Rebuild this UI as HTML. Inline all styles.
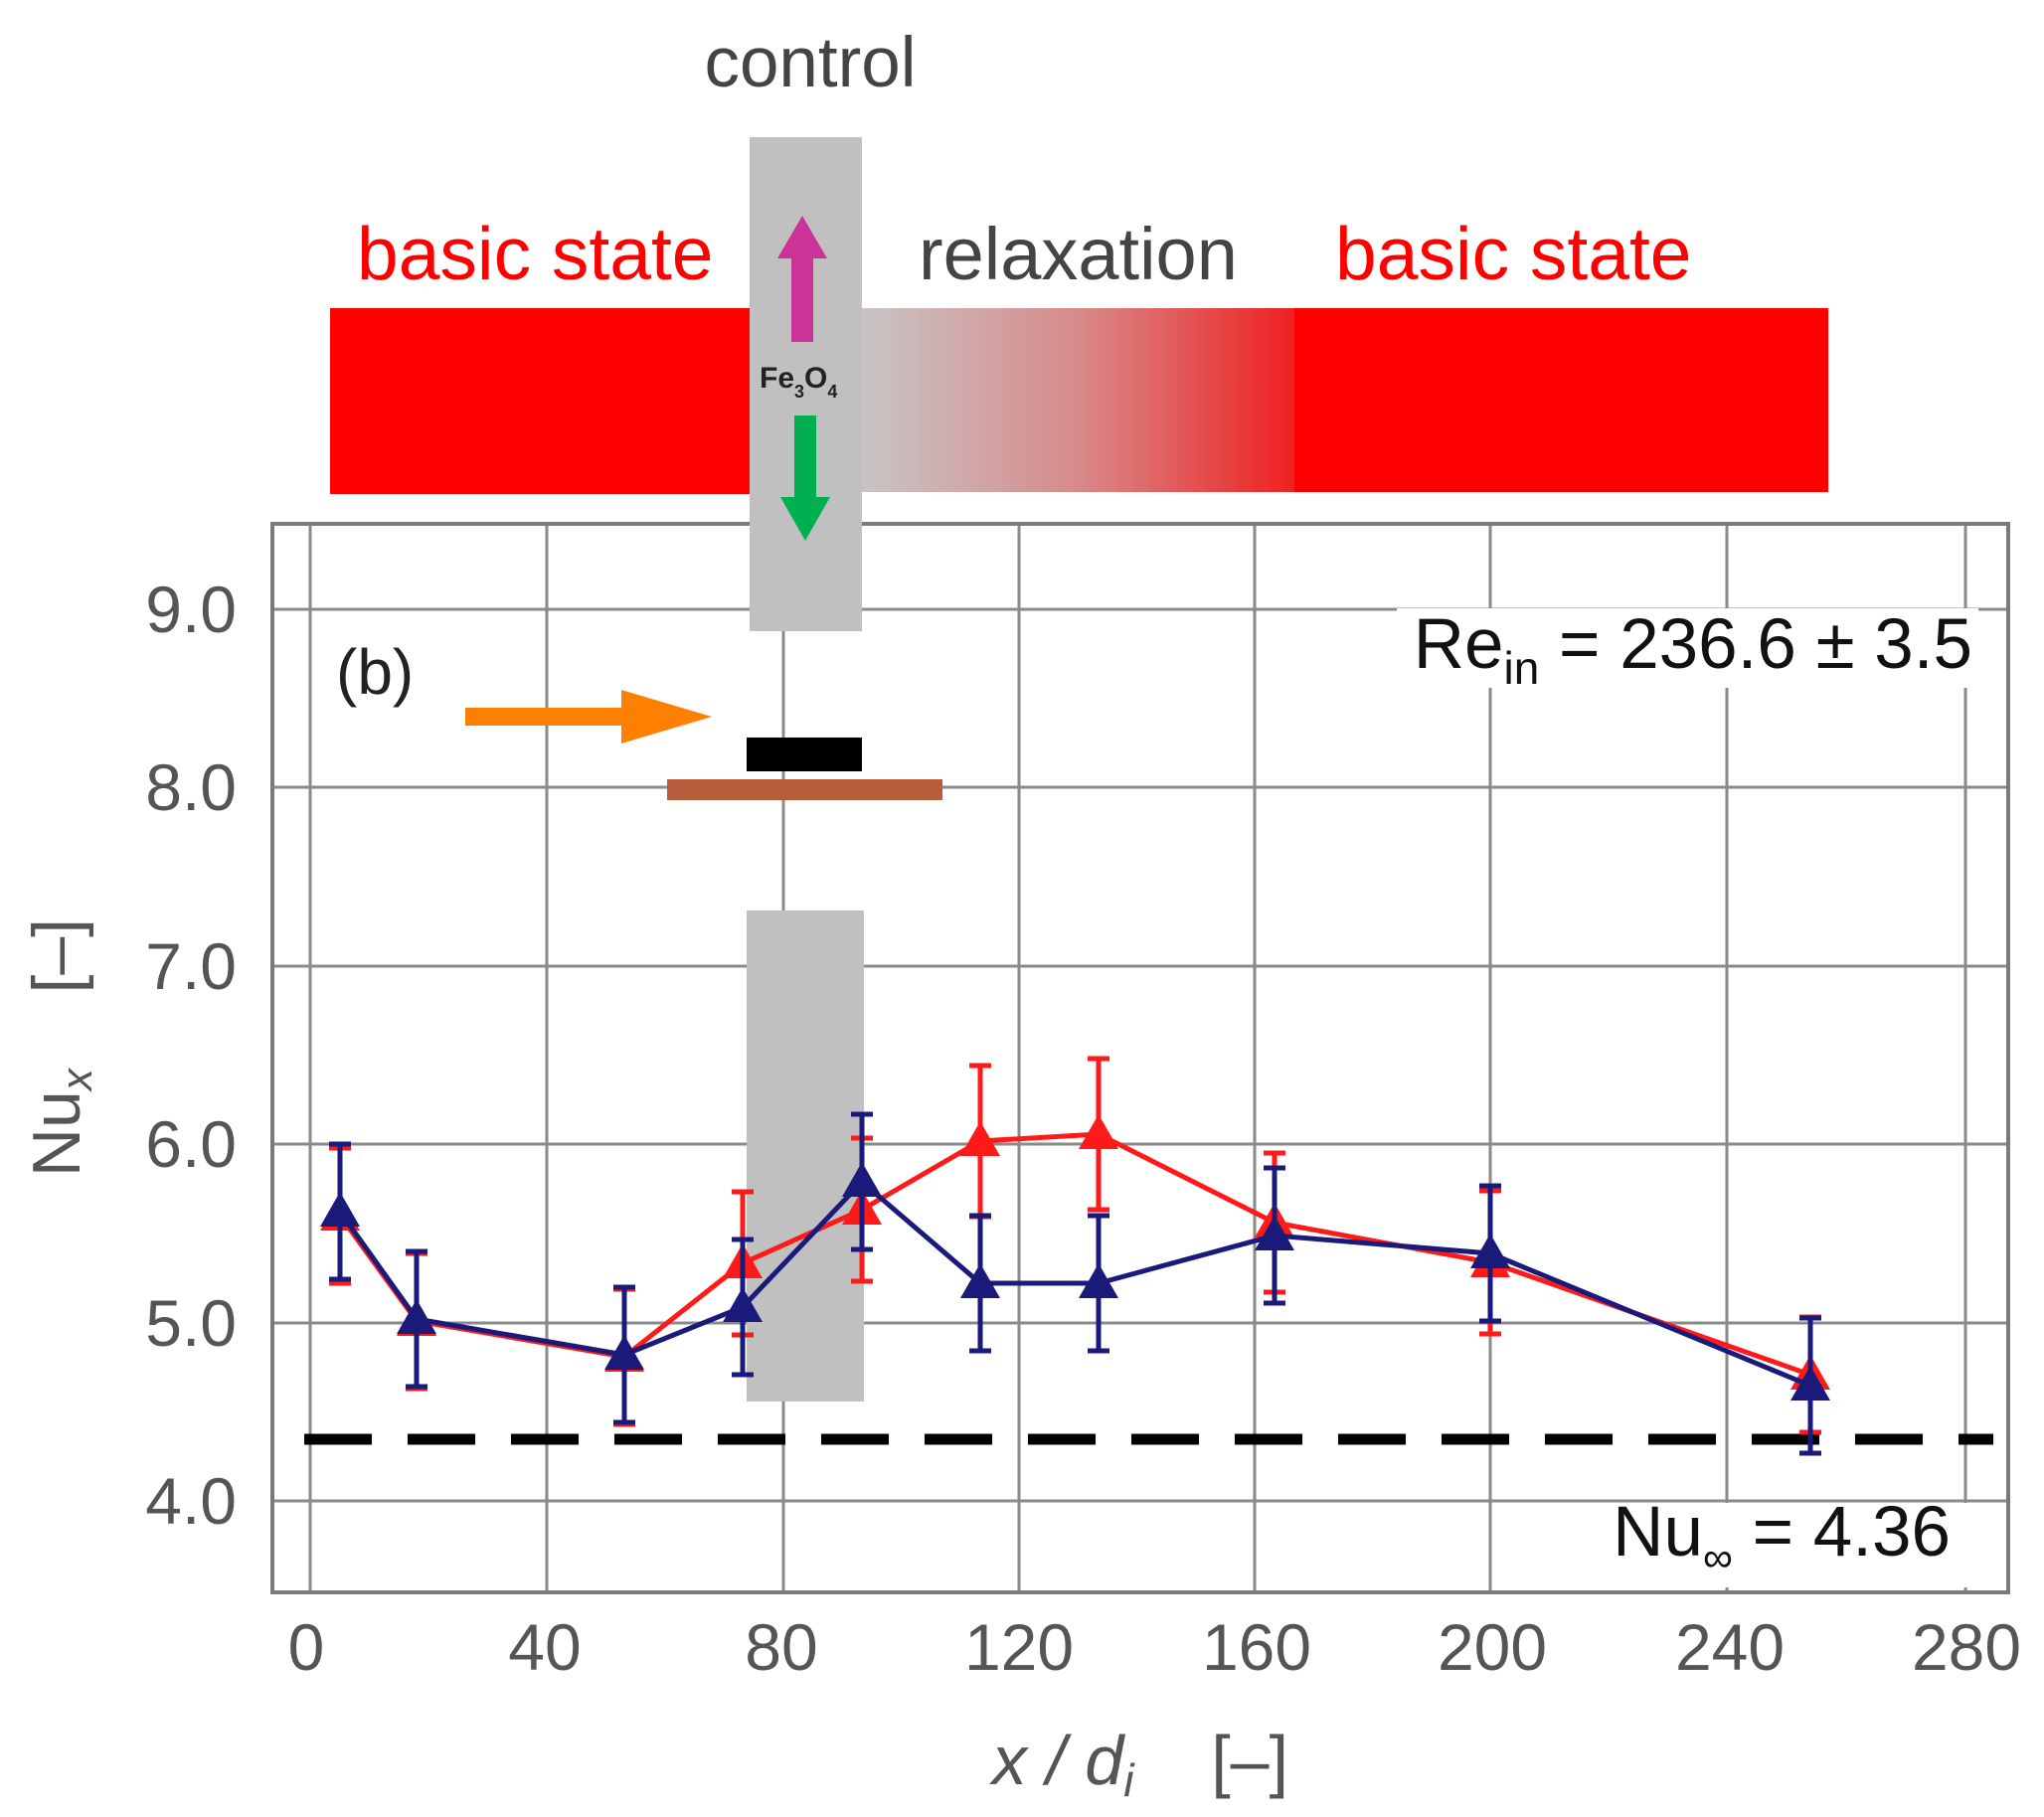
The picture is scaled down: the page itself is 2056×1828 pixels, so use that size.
<!DOCTYPE html>
<html><head><meta charset="utf-8"><style>
html,body{margin:0;padding:0;background:#fff;}
svg{display:block;}
text{font-family:"Liberation Sans",sans-serif;}
</style></head><body>
<svg width="2056" height="1828" viewBox="0 0 2056 1828" xmlns="http://www.w3.org/2000/svg">
<defs>
<linearGradient id="g" x1="0" x2="1" y1="0" y2="0">
<stop offset="0" stop-color="#c8c4c4"/><stop offset="0.5" stop-color="#d88a8a"/><stop offset="1" stop-color="#ee2020"/>
</linearGradient>
</defs>
<g stroke="#8a8a8a" stroke-width="3" fill="none">
<line x1="312" y1="527" x2="312" y2="1602"/>
<line x1="550" y1="527" x2="550" y2="1602"/>
<line x1="788" y1="527" x2="788" y2="1602"/>
<line x1="1025" y1="527" x2="1025" y2="1602"/>
<line x1="1262" y1="527" x2="1262" y2="1602"/>
<line x1="1499" y1="527" x2="1499" y2="1602"/>
<line x1="1737" y1="527" x2="1737" y2="1602"/>
<line x1="1977" y1="527" x2="1977" y2="1602"/>
<line x1="274" y1="613" x2="2020" y2="613"/>
<line x1="274" y1="792" x2="2020" y2="792"/>
<line x1="274" y1="972" x2="2020" y2="972"/>
<line x1="274" y1="1151" x2="2020" y2="1151"/>
<line x1="274" y1="1331" x2="2020" y2="1331"/>
<line x1="274" y1="1510" x2="2020" y2="1510"/>
</g>
<rect x="274" y="527" width="1746" height="1075" fill="none" stroke="#7a7a7a" stroke-width="4"/>
<rect x="1405" y="612" width="585" height="80" fill="#fff"/>
<rect x="1590" y="1512" width="395" height="85" fill="#fff"/>
<rect x="332" y="310" width="422" height="187" fill="#ff0000"/>
<rect x="867" y="310" width="435" height="185" fill="url(#g)"/>
<rect x="1302" y="310" width="537" height="185" fill="#ff0000"/>
<rect x="754" y="138" width="113" height="497" fill="#c0c0c0"/>
<rect x="751" y="916" width="118" height="494" fill="#c0c0c0"/>
<rect x="796" y="258" width="22" height="86" fill="#cc3399"/>
<polygon points="782,260 832,260 807,217" fill="#cc3399"/>
<rect x="799" y="418" width="22" height="84" fill="#00b050"/>
<polygon points="785,500 835,500 810,544" fill="#00b050"/>
<text x="764" y="390" font-size="30" font-weight="bold" fill="#222">Fe<tspan font-size="18" dy="10">3</tspan><tspan dy="-10">O</tspan><tspan font-size="18" dy="10">4</tspan></text>
<rect x="468" y="712" width="175" height="18" fill="#ff8000"/>
<polygon points="625,694 625,748 716,721" fill="#ff8000"/>
<rect x="751" y="742" width="116" height="34" fill="#000"/>
<rect x="671" y="784" width="277" height="21" fill="#b85c3c"/>
<text x="815" y="87" font-size="71" fill="#444" text-anchor="middle">control</text>
<text x="359" y="281" font-size="75" fill="#ff0000">basic state</text>
<text x="924" y="281" font-size="74" fill="#444">relaxation</text>
<text x="1343" y="281" font-size="75" fill="#ff0000">basic state</text>
<text x="338" y="698" font-size="64" fill="#222">(b)</text>
<text x="1984" y="672" font-size="71" fill="#111" text-anchor="end">Re<tspan font-size="46" dy="16">in</tspan><tspan dy="-16"> = 236.6 ± 3.5</tspan></text>
<text x="1962" y="1565" font-size="71" fill="#111" text-anchor="end">Nu<tspan font-size="42" dy="16">∞</tspan><tspan dy="-16"> = 4.36</tspan></text>
<line x1="306" y1="1448" x2="2005" y2="1448" stroke="#000" stroke-width="11" stroke-dasharray="68,36"/>
<g font-size="66" fill="#555" text-anchor="end">
<text x="238" y="636">9.0</text><text x="238" y="815">8.0</text><text x="238" y="995">7.0</text>
<text x="238" y="1174">6.0</text><text x="238" y="1354">5.0</text><text x="238" y="1533">4.0</text>
</g>
<g font-size="66" fill="#555" text-anchor="middle">
<text x="308" y="1680">0</text><text x="548" y="1680">40</text><text x="786" y="1680">80</text>
<text x="1025" y="1680">120</text><text x="1264" y="1680">160</text><text x="1501" y="1680">200</text>
<text x="1740" y="1680">240</text><text x="1978" y="1680">280</text>
</g>
<text x="1147" y="1795" font-size="70" fill="#555" text-anchor="middle"><tspan font-style="italic">x / d<tspan font-size="46" dy="12">i</tspan></tspan><tspan dy="-12" xml:space="preserve">    [–]</tspan></text>
<text transform="translate(80,1054) rotate(-90)" font-size="68" fill="#555" text-anchor="middle">Nu<tspan font-size="44" dy="12" font-style="italic">x</tspan><tspan dy="-12" xml:space="preserve">    [–]</tspan></text>
<g stroke="#ff1a1a" stroke-width="5" fill="none">
<polyline points="342,1223 419,1329 628,1365 747,1271 867,1217 986,1148 1105,1141 1282,1230 1499,1270 1821,1383"/>
<path d="M342,1155V1291M419,1261V1397M628,1297V1433M747,1199V1343M867,1145V1289M986,1072V1224M1105,1065V1217M1282,1160V1300M1499,1198V1342M1821,1325V1441"/>
<path d="M331,1155h22M331,1291h22M408,1261h22M408,1397h22M617,1297h22M617,1433h22M736,1199h22M736,1343h22M856,1145h22M856,1289h22M975,1072h22M975,1224h22M1094,1065h22M1094,1217h22M1271,1160h22M1271,1300h22M1488,1198h22M1488,1342h22M1810,1325h22M1810,1441h22"/>
</g>
<g fill="#ff1a1a">
<polygon points="342,1203 362,1238 322,1238"/><polygon points="419,1309 439,1344 399,1344"/>
<polygon points="628,1345 648,1380 608,1380"/><polygon points="747,1251 767,1286 727,1286"/>
<polygon points="867,1197 887,1232 847,1232"/><polygon points="986,1128 1006,1163 966,1163"/>
<polygon points="1105,1121 1125,1156 1085,1156"/><polygon points="1282,1210 1302,1245 1262,1245"/>
<polygon points="1499,1250 1519,1285 1479,1285"/><polygon points="1821,1363 1841,1398 1801,1398"/>
</g>
<g stroke="#1a1a7a" stroke-width="5" fill="none">
<polyline points="342,1219 419,1327 628,1363 747,1315 867,1189 986,1291 1105,1291 1282,1243 1499,1261 1821,1394"/>
<path d="M342,1151V1287M419,1259V1395M628,1295V1431M747,1247V1383M867,1121V1257M986,1223V1359M1105,1223V1359M1282,1175V1311M1499,1193V1329M1821,1326V1462"/>
<path d="M331,1151h22M331,1287h22M408,1259h22M408,1395h22M617,1295h22M617,1431h22M736,1247h22M736,1383h22M856,1121h22M856,1257h22M975,1223h22M975,1359h22M1094,1223h22M1094,1359h22M1271,1175h22M1271,1311h22M1488,1193h22M1488,1329h22M1810,1326h22M1810,1462h22"/>
</g>
<g fill="#1a1a7a">
<polygon points="342,1199 362,1234 322,1234"/><polygon points="419,1307 439,1342 399,1342"/>
<polygon points="628,1343 648,1378 608,1378"/><polygon points="747,1295 767,1330 727,1330"/>
<polygon points="867,1169 887,1204 847,1204"/><polygon points="986,1271 1006,1306 966,1306"/>
<polygon points="1105,1271 1125,1306 1085,1306"/><polygon points="1282,1223 1302,1258 1262,1258"/>
<polygon points="1499,1241 1519,1276 1479,1276"/><polygon points="1821,1374 1841,1409 1801,1409"/>
</g>
</svg>
</body></html>
